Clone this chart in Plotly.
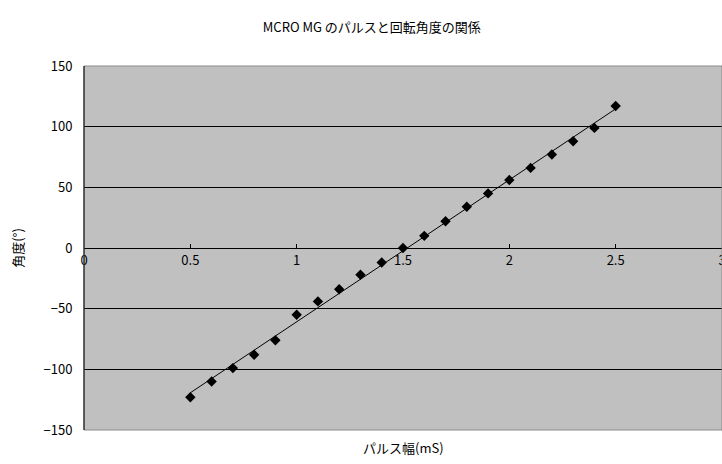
import numpy as np
import plotly.graph_objects as go

pulse_ms = [0.5, 0.6, 0.7, 0.8, 0.9, 1.0, 1.1, 1.2, 1.3, 1.4, 1.5,
            1.6, 1.7, 1.8, 1.9, 2.0, 2.1, 2.2, 2.3, 2.4, 2.5]
angle_deg = [-123, -110, -99, -88, -76, -55, -44, -34, -22, -12, 0,
             10, 22, 34, 45, 56, 66, 77, 88, 99, 117]

x_ticks = [0, 0.5, 1, 1.5, 2, 2.5, 3]
x_tick_text = ["0", "0.5", "1", "1.5", "2", "2.5", "3"]
y_ticks = [-150, -100, -50, 0, 50, 100, 150]

title_text = "MCRO MG のパルスと回転角度の関係"
x_title = "パルス幅(mS)"
y_title = "角度(°)"

font_family = "Noto Sans CJK JP, Noto Sans, sans-serif"

slope, intercept = np.polyfit(pulse_ms, angle_deg, 1)
trend_x = [min(pulse_ms), max(pulse_ms)]
trend_y = [slope * v + intercept for v in trend_x]

fig = go.Figure()
fig.add_trace(go.Scatter(x=trend_x, y=trend_y, mode="lines",
                         line=dict(color="black", width=1), hoverinfo="skip",
                         showlegend=False, cliponaxis=False))
fig.add_trace(go.Scatter(x=pulse_ms, y=angle_deg, mode="markers",
                         marker=dict(symbol="diamond", color="black", size=8),
                         showlegend=False))

fig.update_layout(
    width=722, height=464,
    margin=dict(l=84, r=0, t=66, b=34, autoexpand=False),
    paper_bgcolor="white",
    plot_bgcolor="#C0C0C0",
    font=dict(family=font_family, size=13, color="black"),
    title=dict(text=title_text, x=0.515, xanchor="center", y=0.94, yanchor="middle",
               font=dict(size=13, family=font_family)),
    xaxis=dict(range=[0, 3], tickvals=x_ticks, ticktext=x_tick_text,
               anchor="free", position=0.5, side="bottom",
               ticks="inside", ticklen=4, tickcolor="black",
               showline=True, linecolor="black", linewidth=1,
               showgrid=False, zeroline=False, automargin=False,
               ticklabeloverflow="allow",
               tickfont=dict(size=13)),
    yaxis=dict(range=[-150, 150], tickvals=y_ticks,
               showgrid=True, gridcolor="black", gridwidth=1,
               zeroline=False, showline=False, automargin=False,
               ticks="outside", ticklen=8, tickcolor="rgba(0,0,0,0)",
               tickfont=dict(size=13),
               title=dict(text=y_title, standoff=16, font=dict(size=13))),
)

fig.add_shape(type="rect", xref="paper", yref="paper", x0=0, x1=1, y0=0, y1=1,
              line=dict(color="#8a8a8a", width=1), layer="above")
fig.add_shape(type="line", xref="paper", yref="paper", x0=0, x1=0, y0=0, y1=1,
              line=dict(color="black", width=1), layer="above")

fig.add_annotation(text=x_title, xref="paper", yref="paper", x=0.5, y=0,
                   yshift=-17, xanchor="center", yanchor="middle",
                   showarrow=False, font=dict(size=13, family=font_family))

fig.write_html("out.html", config={"displayModeBar": False},
               post_script="document.body.style.margin='0';document.body.style.overflow='hidden';")
